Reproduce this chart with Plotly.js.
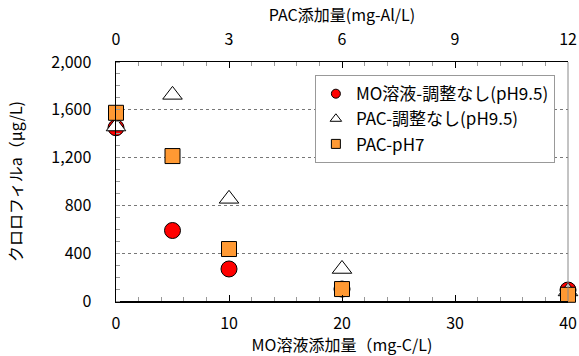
<!DOCTYPE html>
<html><head><meta charset="utf-8">
<script src="https://cdn.plot.ly/plotly-3.0.1.min.js"></script>
<style>body{margin:0;}#c{width:579px;height:356px;}</style>
</head><body><div id="c"></div>
<script>
var moDose = [0, 5, 10, 20, 40];
var moChl = [1450, 590, 268, 100, 92];
var pacDose = [0, 1.5, 3, 6, 12];
var pacNoAdjChl = [1460, 1725, 855, 268, 80];
var pacPH7Chl = [1575, 1213, 435, 100, 52];
var seriesNames = ["MO溶液-調整なし(pH9.5)", "PAC-調整なし(pH9.5)", "PAC-pH7"];
var yTicks = [0, 400, 800, 1200, 1600, 2000];
var yTickText = ["0", "400", "800", "1,200", "1,600", "2,000"];

var F = "'Noto Sans CJK JP', 'Noto Sans', sans-serif";
var styles = [
  {symbol: 'circle', size: 16, color: '#ff0000'},
  {symbol: 'triangle-up', size: 17, color: '#ffffff'},
  {symbol: 'square', size: 15, color: '#ff9933'}
];
var legSize = [9, 10, 9];
var xs = [moDose, pacDose, pacDose];
var ys = [moChl, pacNoAdjChl, pacPH7Chl];
var xa = ['x', 'x2', 'x2'];
var traces = [];
for (var i = 0; i < 3; i++) {
  traces.push({x: xs[i], y: ys[i], name: seriesNames[i], type: 'scatter', mode: 'markers', xaxis: xa[i], yaxis: 'y',
    cliponaxis: false, showlegend: false,
    marker: {symbol: styles[i].symbol, size: styles[i].size, color: styles[i].color, line: {color: '#000', width: 1}}});
}
for (var i = 0; i < 3; i++) {
  traces.push({x: [null], y: [null], name: seriesNames[i], type: 'scatter', mode: 'markers', xaxis: xa[i], yaxis: 'y',
    showlegend: true,
    marker: {symbol: styles[i].symbol, size: legSize[i], color: styles[i].color, line: {color: '#000', width: 1}}});
}
var layout = {
  width: 579, height: 356,
  margin: {l: 116, r: 11, t: 62, b: 55},
  paper_bgcolor: '#fff', plot_bgcolor: '#fff',
  font: {family: F, size: 16, color: '#000'},
  showlegend: true,
  legend: {x: 0.44, y: 0.945, xanchor: 'left', yanchor: 'top', bgcolor: '#fff', bordercolor: '#999', borderwidth: 1,
           font: {family: F, size: 17}, tracegroupgap: 0, itemwidth: 30},
  xaxis: {range: [0, 40], tickvals: [0, 10, 20, 30, 40], showgrid: false, zeroline: false,
          showline: true, linecolor: '#000', linewidth: 1.5, ticks: 'inside', ticklen: 6, tickcolor: '#000',
          ticklabelstandoff: 7,
          minor: {dtick: 2, ticks: 'inside', ticklen: 4, tickcolor: '#999', showgrid: false},
          title: {text: 'MO溶液添加量（mg-C/L)', font: {family: F, size: 16}, standoff: 5}, tickfont: {size: 16}},
  xaxis2: {range: [0, 12], tickvals: [0, 3, 6, 9, 12], overlaying: 'x', side: 'top', showgrid: false, zeroline: false,
           showline: true, linecolor: '#000', linewidth: 1.5, ticks: 'inside', ticklen: 6, tickcolor: '#000',
           ticklabelstandoff: 9,
           minor: {dtick: 0.6, ticks: 'inside', ticklen: 4, tickcolor: '#999', showgrid: false},
           title: {text: 'PAC添加量(mg-Al/L)', font: {family: F, size: 16}, standoff: 0}, tickfont: {size: 16}},
  yaxis: {range: [0, 2000], tickvals: yTicks, ticktext: yTickText, showgrid: true, gridcolor: '#777', griddash: 'dot', gridwidth: 1,
          zeroline: false, showline: true, linecolor: '#000', linewidth: 1.5, ticks: '', ticklabelstandoff: 20,
          minor: {dtick: 100, ticks: 'inside', ticklen: 4, tickcolor: '#999', showgrid: false},
          title: {text: 'クロロフィルa（μg/L)', font: {family: F, size: 16}, standoff: 24}, tickfont: {size: 16}},
  shapes: [{type: 'line', xref: 'paper', yref: 'paper', x0: 1, x1: 1, y0: 0, y1: 1, line: {color: '#888', width: 1}}]
};
Plotly.newPlot('c', traces, layout, {displayModeBar: false, staticPlot: true});
</script></body></html>
